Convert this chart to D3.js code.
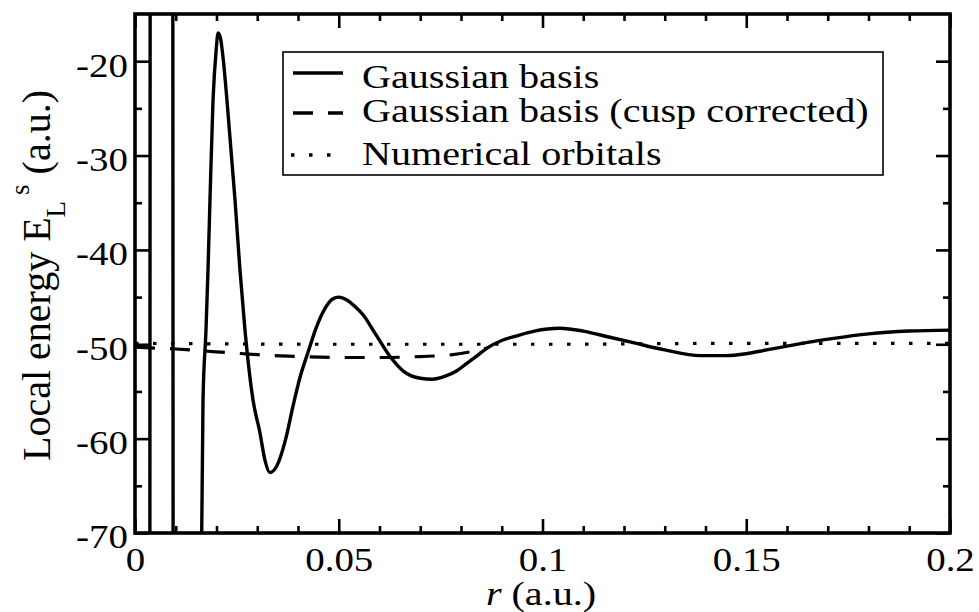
<!DOCTYPE html>
<html><head><meta charset="utf-8">
<script src="https://cdn.jsdelivr.net/npm/d3@7"></script>
<style>
body{margin:0;background:#fff}
text{font-family:"Liberation Serif","DejaVu Serif",serif;fill:#000}
</style>
</head><body>
<svg id="c" width="979" height="612"></svg>
<script>
// ---- data ----
const rGauss = [0.0000,0.0030,0.0035,0.0039,0.0045,0.0060,0.0085,0.0091,0.0095,0.0100,0.0130,0.0155,0.0160,
  0.01637,0.01669,0.01742,0.01791,0.0184,0.01914,0.0199,0.0204,0.0210,0.0217,0.02258,0.02454,0.02577,0.02699,
  0.02896,0.03067,0.0319,0.0331,0.0348,0.0370,0.0388,0.0405,0.0425,0.0445,0.0465,0.0485,0.0500,0.0520,0.0540,
  0.0560,0.0590,0.0626,0.0660,0.0700,0.0729,0.0760,0.0790,0.0815,0.0840,0.0864,0.0900,0.0937,0.0980,0.1043,
  0.1100,0.1160,0.1220,0.1300,0.1387,0.1450,0.1500,0.1550,0.1600,0.1650,0.1710,0.1800,0.1900,0.2000];
const eGauss = [-400,-300,-200,150,300,400,300,150,-200,-300,-400,-200,-100,
  -70,-55.9,-48.5,-42.2,-34.7,-24.2,-18.9,-17.0,-17.6,-20.0,-24.2,-34.7,-42.2,-48.5,
  -55.9,-59.4,-62.3,-63.6,-62.9,-60.0,-56.5,-53.5,-50.8,-48.2,-46.3,-45.2,-45.0,-45.3,-46.0,
  -46.9,-48.9,-51.3,-52.9,-53.6,-53.7,-53.4,-52.8,-52.0,-51.2,-50.4,-49.6,-49.1,-48.6,-48.3,
  -48.6,-49.2,-49.8,-50.6,-51.2,-51.2,-51.0,-50.6,-50.2,-49.8,-49.4,-48.9,-48.6,-48.5];

const rCusp = [0, 0.005, 0.010, 0.020, 0.030, 0.040, 0.050, 0.060, 0.070, 0.078, 0.0864];
const eCusp = [-50.3, -50.4, -50.5, -50.8, -51.1, -51.3, -51.4, -51.4, -51.3, -51.1, -50.4];

const rNum = [0, 0.05, 0.1, 0.15, 0.2];
const eNum = [-49.9, -50.0, -50.0, -49.9, -49.9];

const xMajor = [0, 0.05, 0.1, 0.15, 0.2];
const xTickLabels = ["0", "0.05", "0.1", "0.15", "0.2"];
const xMinor = [0.01,0.02,0.03,0.04,0.06,0.07,0.08,0.09,0.11,0.12,0.13,0.14,0.16,0.17,0.18,0.19];
const yMajor = [-70, -60, -50, -40, -30, -20];
const yTickLabels = ["-70", "-60", "-50", "-40", "-30", "-20"];
const yMinor = [-65, -55, -45, -35, -25];

const seriesNames = ["Gaussian basis", "Gaussian basis (cusp corrected)", "Numerical orbitals"];

// ---- drawing ----
const svg = d3.select("#c");
const L = 135, R = 950, T = 14, B = 533;
const x = d3.scaleLinear().domain([0, 0.2]).range([L, R]);
const y = d3.scaleLinear().domain([-70, -15]).range([B, T]);
const SX = 1.18;

svg.append("defs").append("clipPath").attr("id", "clip")
  .append("rect").attr("x", L).attr("y", T).attr("width", R - L).attr("height", B - T);

const line = d3.line().x(d => x(d[0])).y(d => y(d[1])).curve(d3.curveMonotoneX);
const plot = svg.append("g").attr("clip-path", "url(#clip)");

plot.append("path").datum(d3.zip(rNum, eNum)).attr("d", line)
  .attr("fill", "none").attr("stroke", "#000").attr("stroke-width", 3.2).attr("stroke-dasharray", "3.5 14.5");
plot.append("path").datum(d3.zip(rCusp, eCusp)).attr("d", line)
  .attr("fill", "none").attr("stroke", "#000").attr("stroke-width", 3.2).attr("stroke-dasharray", "20 15");
plot.append("path").datum(d3.zip(rGauss, eGauss)).attr("d", line)
  .attr("fill", "none").attr("stroke", "#000").attr("stroke-width", 3.4);

function styleAxis(g) {
  g.select(".domain").remove();
  g.selectAll(".tick line").attr("stroke", "#000").attr("stroke-width", 2.6);
}

// bottom
const gB = svg.append("g").attr("transform", `translate(0,${B})`)
  .call(d3.axisBottom(x).tickValues(xMajor).tickSize(-14).tickFormat((d, i) => xTickLabels[i]));
styleAxis(gB);
gB.selectAll(".tick text").attr("y", 38).attr("dy", 0).attr("font-size", 33)
  .attr("font-family", '"Liberation Serif",serif').attr("transform", `scale(${SX},1)`);
svg.append("g").attr("transform", `translate(0,${B})`)
  .call(d3.axisBottom(x).tickValues(xMinor).tickSize(-7).tickFormat("")).call(styleAxis);
// top
svg.append("g").attr("transform", `translate(0,${T})`)
  .call(d3.axisTop(x).tickValues(xMajor).tickSize(-14).tickFormat("")).call(styleAxis);
svg.append("g").attr("transform", `translate(0,${T})`)
  .call(d3.axisTop(x).tickValues(xMinor).tickSize(-7).tickFormat("")).call(styleAxis);
// left
const gL = svg.append("g").attr("transform", `translate(${L},0)`)
  .call(d3.axisLeft(y).tickValues(yMajor).tickSize(-14).tickPadding(6).tickFormat((d, i) => yTickLabels[i]));
styleAxis(gL);
gL.selectAll(".tick text").attr("dy", "0.45em").attr("font-size", 33)
  .attr("font-family", '"Liberation Serif",serif').attr("transform", `scale(${SX},1)`);
svg.append("g").attr("transform", `translate(${L},0)`)
  .call(d3.axisLeft(y).tickValues(yMinor).tickSize(-7).tickFormat("")).call(styleAxis);
// right
svg.append("g").attr("transform", `translate(${R},0)`)
  .call(d3.axisRight(y).tickValues(yMajor).tickSize(-14).tickFormat("")).call(styleAxis);
svg.append("g").attr("transform", `translate(${R},0)`)
  .call(d3.axisRight(y).tickValues(yMinor).tickSize(-7).tickFormat("")).call(styleAxis);

// frame
svg.append("rect").attr("x", L).attr("y", T).attr("width", R - L).attr("height", B - T)
  .attr("fill", "none").attr("stroke", "#000").attr("stroke-width", 3.6);

// legend
const lg = svg.append("g");
lg.append("rect").attr("x", 283).attr("y", 52).attr("width", 600).attr("height", 123)
  .attr("fill", "#fff").attr("stroke", "#000").attr("stroke-width", 1.6);
const legRows = [
  {ly: 73, ty: 88, dash: null, x1: 293, x2: 343},
  {ly: 113, ty: 122, dash: "20 15", x1: 293, x2: 343},
  {ly: 155, ty: 165, dash: "3.5 14.5", x1: 291, x2: 334}
];
legRows.forEach((r, i) => {
  const ln = lg.append("line").attr("x1", r.x1).attr("x2", r.x2).attr("y1", r.ly).attr("y2", r.ly)
    .attr("stroke", "#000").attr("stroke-width", 3.4);
  if (r.dash) ln.attr("stroke-dasharray", r.dash);
  lg.append("text").attr("transform", `translate(362,${r.ty}) scale(${SX},1)`)
    .attr("font-size", 34).text(seriesNames[i]);
});

// axis titles
const xt = svg.append("text").attr("transform", `translate(541,605) scale(${SX},1)`)
  .attr("text-anchor", "middle").attr("font-size", 34);
xt.append("tspan").attr("font-style", "italic").text("r");
xt.append("tspan").text(" (a.u.)");

const yt = svg.append("text").attr("transform", "translate(50,461) rotate(-90)")
  .attr("font-size", 40);
yt.append("tspan").text("Local energy E");
yt.append("tspan").attr("font-size", 27).attr("dy", 15).text("L");
yt.append("tspan").attr("font-size", 27).attr("dy", -36).attr("dx", 6).text("s");
yt.append("tspan").attr("dy", 21).text(" (a.u.)");
</script>
</body></html>
